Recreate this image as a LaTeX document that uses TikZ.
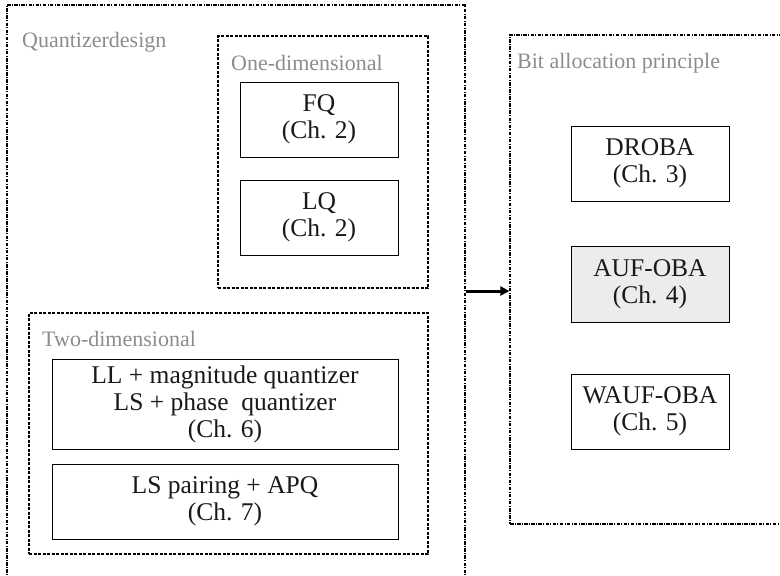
\documentclass[tikz,border=0pt]{standalone}
\usepackage{fontspec}
\setmainfont{Liberation Serif}
\usetikzlibrary{arrows.meta}
\definecolor{labelgray}{HTML}{8C8C8C}
\definecolor{boxfill}{HTML}{ECECEC}
\tikzset{
  chapbox/.style={draw, line width=1pt, align=center, font=\fontsize{25.5}{27}\selectfont,
    inner sep=0pt, text=black!90},
  groupbox/.style={draw, line width=1.3pt, dash pattern=on 3pt off 1.5pt, inner sep=0pt},
  outerbox/.style={draw, line width=1.3pt, dash pattern=on 3.5pt off 1.3pt on 1pt off 1.3pt, inner sep=0pt},
  grouplabel/.style={anchor=west, text=labelgray, font=\fontsize{22}{24}\selectfont, inner sep=0pt},
}
\begin{document}
\begin{tikzpicture}[x=1pt,y=-1pt]
\useasboundingbox (0,0) rectangle (780,576);
\clip (0,0) rectangle (780,576);

% outer groups
\node[outerbox, minimum width=458pt, minimum height=600pt] (quant) at (236,305) {};
\node[outerbox, minimum width=300pt, minimum height=489pt] (bits) at (660,279.5) {};

% one-dimensional quantizers
\node[groupbox, minimum width=210pt, minimum height=252pt] (onedim) at (323,162) {};
\node[chapbox, minimum width=158pt, minimum height=75pt] (fq) at (319,119.5) {FQ\\(Ch. 2)};
\node[chapbox, minimum width=158pt, minimum height=75pt] (lq) at (319,217.5) {LQ\\(Ch. 2)};

% two-dimensional quantizers
\node[groupbox, minimum width=399pt, minimum height=241pt] (twodim) at (228.5,433.5) {};
\node[chapbox, minimum width=346pt, minimum height=90pt] (ll) at (225,404) {LL + magnitude quantizer\\LS + phase\ \ quantizer\\(Ch. 6)};
\node[chapbox, minimum width=346pt, minimum height=75pt] (lsp) at (225,501.5) {LS pairing + APQ\\(Ch. 7)};

% bit allocation principles
\node[chapbox, minimum width=158pt, minimum height=75pt] (droba) at (650,163.5) {DROBA\\(Ch. 3)};
\node[chapbox, fill=boxfill, minimum width=158pt, minimum height=76pt] (auf) at (650,284) {AUF-OBA\\(Ch. 4)};
\node[chapbox, minimum width=158pt, minimum height=75pt] (wauf) at (650,411.5) {WAUF-OBA\\(Ch. 5)};

% group titles
\node[grouplabel] (quantlbl) at (22,42) {Quantizerdesign};
\node[grouplabel] (onedimlbl) at (231,63) {One-dimensional};
\node[grouplabel] (twodimlbl) at (42,339) {Two-dimensional};
\node[grouplabel] (bitslbl) at (517,63) {Bit allocation principle};

% link between the two groups
\coordinate (linkstart) at (quant.east |- 0,291);
\draw[line width=3pt, -{Triangle[length=9pt,width=9pt]}] (linkstart) -- (linkstart -| bits.west);
\end{tikzpicture}
\end{document}
